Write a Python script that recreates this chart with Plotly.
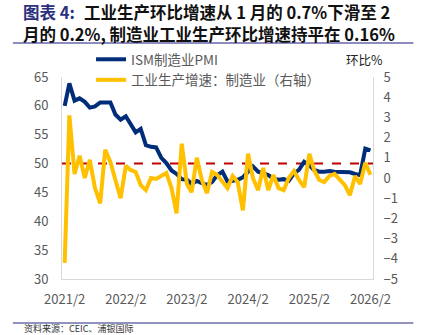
import plotly.graph_objects as go
import pandas as pd

# ---------------- data ----------------
months = pd.date_range("2021-02-01", "2026-02-01", freq="MS")

ism_pmi = [
    60.0, 63.9, 60.9, 61.3, 60.7, 59.7, 59.9, 60.6, 60.6, 60.6, 58.5,          # 2021/2-12
    57.6, 58.2, 57.0, 55.4, 56.0, 53.2, 52.9, 52.8, 51.0, 50.1, 48.8, 48.2,    # 2022
    47.3, 47.2, 46.5, 47.0, 46.6, 46.3, 46.8, 48.0, 48.6, 46.9, 47.0, 47.2,    # 2023
    47.6, 48.6, 49.5, 48.6, 48.3, 48.0, 47.4, 47.2, 47.3, 47.0, 48.3, 48.9,    # 2024
    50.3, 49.7, 48.9, 48.6, 48.6, 48.7, 48.6, 48.6, 48.6, 48.5, 48.2, 48.0,    # 2025
    52.6, 52.3,                                                                 # 2026
]

ip_mfg_mom = [
    -4.2, 3.1, 0.2, 1.1, 0.0, 0.9, -0.5, -1.25, 1.4, 0.8, -0.1,                 # 2021/2-12
    -1.0, 0.6, 0.4, 0.3, -0.35, -0.6, 0.0, -0.05, 0.1, 0.25, -0.5, -1.75,      # 2022
    1.7, -0.3, -0.7, 1.0, -0.1, -0.75, 0.3, 0.15, -0.18, -0.5, 0.1, -0.2,      # 2023
    -1.6, 1.2, 0.0, -0.6, 0.5, -0.6, 0.15, -0.5, -0.6, 0.0, 0.35, -0.1,        # 2024
    -0.45, 1.2, 0.4, -0.1, -0.2, 0.1, 0.2, -0.1, -0.35, -0.85, 0.1, -0.3,      # 2025
    0.75, 0.16,                                                                 # 2026
]

threshold = 50
left_ticks = [30, 35, 40, 45, 50, 55, 60, 65]
right_ticks = [-5, -4, -3, -2, -1, 0, 1, 2, 3, 4, 5]
x_tick_dates = pd.date_range("2021-02-01", "2026-02-01", freq="12MS")
x_tick_text = ["2021/2", "2022/2", "2023/2", "2024/2", "2025/2", "2026/2"]

title_tag = "图表 4:"
title_l1 = "工业生产环比增速从 1 月的 0.7%下滑至 2"
title_l2 = "月的 0.2%, 制造业工业生产环比增速持平在 0.16%"
source = "资料来源：CEIC、浦银国际"

# ---------------- layout geometry ----------------
W, H = 423, 335
L, R, T, B = 62, 372.6, 77, 279


def px(x):
    return (x - L) / (R - L)


def py(y):
    return (B - y) / (B - T)


FONT = "Noto Sans CJK SC"
GRAY = "#595959"
TS = 16.5

fig = go.Figure()

fig.add_trace(go.Scatter(
    x=months, y=ism_pmi, name="ISM制造业PMI", mode="lines",
    line=dict(color="#002D7A", width=4), yaxis="y",
))
fig.add_trace(go.Scatter(
    x=months, y=ip_mfg_mom, name="工业生产增速：制造业（右轴）", mode="lines",
    line=dict(color="#FFC000", width=4), yaxis="y2",
))

fig.add_shape(type="line", xref="paper", yref="y", x0=0, x1=1, y0=threshold, y1=threshold,
              line=dict(color="#C00000", width=2, dash="dash"), layer="below")

# rules
fig.add_shape(type="line", xref="paper", yref="paper", x0=px(13), x1=px(413), y0=py(43), y1=py(43),
              line=dict(color="#8C8CBE", width=2))
fig.add_shape(type="line", xref="paper", yref="paper", x0=px(13), x1=px(413), y0=py(323), y1=py(323),
              line=dict(color="#6E6EA8", width=1.5))

annots = [
    dict(text="<b>" + title_tag + "</b>", x=px(21), y=py(12), xanchor="left", yanchor="middle",
         font=dict(size=TS, color="#2B2F7E", family=FONT)),
    dict(text="<b>" + title_l1 + "</b>", x=px(82), y=py(12), xanchor="left", yanchor="middle",
         font=dict(size=TS, color="#111111", family=FONT)),
    dict(text="<b>" + title_l2 + "</b>", x=px(21), y=py(34), xanchor="left", yanchor="middle",
         font=dict(size=TS, color="#111111", family=FONT)),
    dict(text="环比%", x=px(344), y=py(60), xanchor="left", yanchor="middle",
         font=dict(size=12.5, color="#222222", family=FONT)),
    dict(text=source, x=px(22), y=py(328.5), xanchor="left", yanchor="middle",
         font=dict(size=9, color="#333333", family=FONT)),
]
for a in annots:
    a.update(xref="paper", yref="paper", showarrow=False)
    fig.add_annotation(**a)

fig.update_layout(
    width=W, height=H,
    margin=dict(l=L, r=W - R, t=T, b=H - B, pad=0),
    paper_bgcolor="white", plot_bgcolor="white",
    showlegend=True,
    legend=dict(x=px(91), y=py(44), xanchor="left", yanchor="top",
                bgcolor="rgba(0,0,0,0)", font=dict(size=13.5, color=GRAY, family=FONT),
                tracegroupgap=0, itemwidth=30),
    xaxis=dict(
        type="date",
        range=["2021-01-16", "2026-02-16"],
        tickvals=list(x_tick_dates), ticktext=x_tick_text,
        showgrid=False, zeroline=False,
        showline=True, linecolor="#D9D9D9", linewidth=1,
        ticks="", ticklabelstandoff=8,
        tickfont=dict(size=13, color=GRAY, family=FONT),
    ),
    yaxis=dict(
        range=[30, 65], tickvals=left_ticks,
        showgrid=False, zeroline=False,
        showline=True, linecolor="#D9D9D9", linewidth=1,
        ticks="", ticklabelstandoff=10,
        tickfont=dict(size=13, color=GRAY, family=FONT),
    ),
    yaxis2=dict(
        range=[-5, 5], tickvals=right_ticks, overlaying="y", side="right",
        showgrid=False, zeroline=False,
        showline=True, linecolor="#D9D9D9", linewidth=1,
        ticks="", ticklabelstandoff=7,
        tickfont=dict(size=13, color=GRAY, family=FONT),
    ),
    font=dict(family=FONT),
)

fig.write_html("out.html")
